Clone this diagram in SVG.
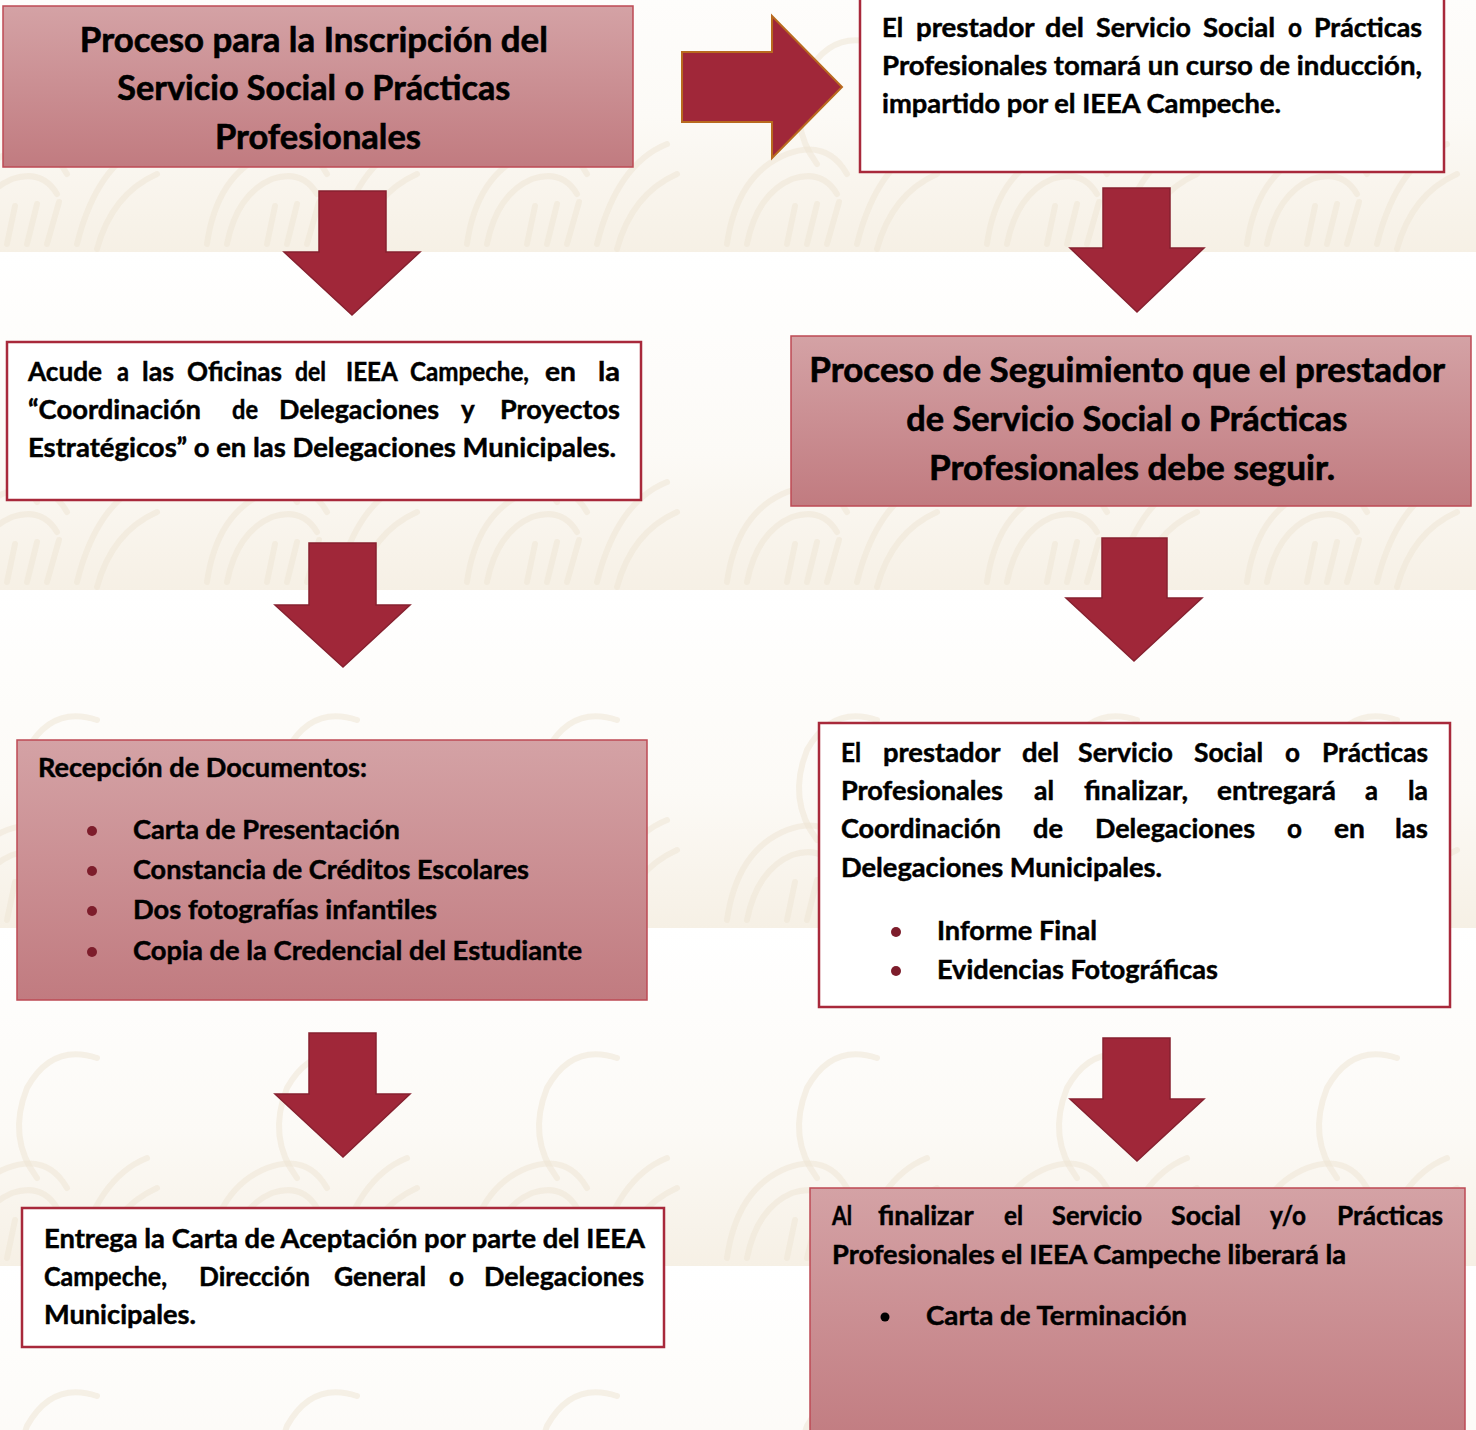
<svg xmlns="http://www.w3.org/2000/svg" width="1476" height="1430" viewBox="0 0 1476 1430">
<style>
.t{font-family:Lato,"Open Sans","Liberation Sans",sans-serif;font-weight:700;font-size:26px;fill:#000;stroke:#000;stroke-width:0.45}
.h{font-size:34px;stroke-width:0.6}
.pink{fill:url(#pg);stroke:#bd4a54;stroke-width:1.5}
.white{fill:#fff;stroke:#a8293b;stroke-width:2.5}
.arrow{fill:#a02739;stroke:#86202f;stroke-width:1.5}
.bul{fill:#7d1d2b}
.wm{fill:none;stroke:#efe5d4;stroke-width:6;stroke-linecap:round;opacity:.55}
</style>
<defs>
<linearGradient id="pg" x1="0" y1="0" x2="0" y2="1">
<stop offset="0" stop-color="#d4a2a5"/>
<stop offset="1" stop-color="#c17b80"/>
</linearGradient>
<linearGradient id="bgg" x1="0" y1="0" x2="0" y2="1">
<stop offset="0" stop-color="#ffffff"/>
<stop offset="0.6" stop-color="#fcfaf6"/>
<stop offset="1" stop-color="#f6f0e5"/>
</linearGradient>
<pattern id="bg" x="187" y="252" width="260" height="338" patternUnits="userSpaceOnUse">
<rect width="260" height="338" fill="url(#bgg)"/>
<path class="wm" d="M20,330 q10,-70 60,-90 q40,-15 60,20"/>
<path class="wm" d="M40,330 q10,-50 45,-65 q30,-10 45,15"/>
<path class="wm" d="M150,330 q20,-80 70,-100"/>
<path class="wm" d="M170,335 q15,-55 60,-75"/>
<path class="wm" d="M110,250 q-30,-40 -10,-90 q25,-45 70,-30" opacity=".35"/>
<path class="wm" d="M100,330 l10,-40 M120,330 l12,-42 M80,330 l8,-38"/>
</pattern>
</defs>
<rect width="1476" height="1430" fill="url(#bg)"/>

<g id="connectors">
<polygon id="arrow-right" points="682,52 772,52 772,16 842,87 772,158 772,122 682,122" fill="#a02739" stroke="#b86a1f" stroke-width="2"/>
<polygon class="arrow" points="319,191 386,191 386,252 420,252 352,315 284,252 319,252"/>
<polygon class="arrow" points="309,543 376,543 376,605 410,605 343,667 275,605 309,605"/>
<polygon class="arrow" points="309,1033 376,1033 376,1094 410,1094 343,1157 275,1094 309,1094"/>
<polygon class="arrow" points="1103,188 1170,188 1170,248 1204,248 1137,312 1070,248 1103,248"/>
<polygon class="arrow" points="1102,538 1167,538 1167,598 1202,598 1134,661 1066,598 1102,598"/>
<polygon class="arrow" points="1103,1038 1170,1038 1170,1099 1204,1099 1137,1161 1070,1099 1103,1099"/>
</g>

<g id="n1">
<rect class="pink" x="3" y="6" width="630" height="161"/>
<text class="t h" text-anchor="middle">
<tspan x="318" y="52" textLength="468" lengthAdjust="spacingAndGlyphs">Proceso para la Inscripción del</tspan>
<tspan x="318" y="100" textLength="393" lengthAdjust="spacingAndGlyphs">Servicio Social o Prácticas</tspan>
<tspan x="318" y="149" textLength="206" lengthAdjust="spacingAndGlyphs">Profesionales</tspan>
</text>
</g>

<g id="n2">
<rect class="white" x="860" y="-4" width="584" height="176"/>
<text class="t">
<tspan x="882" y="37" textLength="21" lengthAdjust="spacingAndGlyphs">El</tspan>
<tspan x="916" y="37" textLength="118" lengthAdjust="spacingAndGlyphs">prestador</tspan>
<tspan x="1045" y="37" textLength="39" lengthAdjust="spacingAndGlyphs">del</tspan>
<tspan x="1096" y="37" textLength="95" lengthAdjust="spacingAndGlyphs">Servicio</tspan>
<tspan x="1203" y="37" textLength="72" lengthAdjust="spacingAndGlyphs">Social</tspan>
<tspan x="1288" y="37" textLength="14" lengthAdjust="spacingAndGlyphs">o</tspan>
<tspan x="1314" y="37" textLength="108" lengthAdjust="spacingAndGlyphs">Prácticas</tspan>
<tspan x="882" y="75" textLength="540" lengthAdjust="spacingAndGlyphs">Profesionales tomará un curso de inducción,</tspan>
<tspan x="882" y="113" textLength="399" lengthAdjust="spacingAndGlyphs">impartido por el IEEA Campeche.</tspan>
</text>
</g>

<g id="n3">
<rect class="white" x="7" y="342" width="634" height="158"/>
<text class="t">
<tspan x="28" y="381" textLength="74" lengthAdjust="spacingAndGlyphs">Acude</tspan>
<tspan x="117" y="381" textLength="12" lengthAdjust="spacingAndGlyphs">a</tspan>
<tspan x="142" y="381" textLength="32" lengthAdjust="spacingAndGlyphs">las</tspan>
<tspan x="187" y="381" textLength="95" lengthAdjust="spacingAndGlyphs">Oficinas</tspan>
<tspan x="295" y="381" textLength="31" lengthAdjust="spacingAndGlyphs">del</tspan>
<tspan x="346" y="381" textLength="51" lengthAdjust="spacingAndGlyphs">IEEA</tspan>
<tspan x="410" y="381" textLength="119" lengthAdjust="spacingAndGlyphs">Campeche,</tspan>
<tspan x="545" y="381" textLength="31" lengthAdjust="spacingAndGlyphs">en</tspan>
<tspan x="598" y="381" textLength="22" lengthAdjust="spacingAndGlyphs">la</tspan>
<tspan x="28" y="419" textLength="173" lengthAdjust="spacingAndGlyphs">“Coordinación</tspan>
<tspan x="232" y="419" textLength="26" lengthAdjust="spacingAndGlyphs">de</tspan>
<tspan x="279" y="419" textLength="160" lengthAdjust="spacingAndGlyphs">Delegaciones</tspan>
<tspan x="461" y="419">y</tspan>
<tspan x="500" y="419" textLength="120" lengthAdjust="spacingAndGlyphs">Proyectos</tspan>
<tspan x="28" y="457" textLength="588" lengthAdjust="spacingAndGlyphs">Estratégicos” o en las Delegaciones Municipales.</tspan>
</text>
</g>

<g id="n4">
<rect class="pink" x="791" y="336" width="680" height="170"/>
<text class="t h" text-anchor="middle">
<tspan x="1131" y="382" textLength="635" lengthAdjust="spacingAndGlyphs">Proceso de Seguimiento que el prestador</tspan>
<tspan x="1131" y="431" textLength="441" lengthAdjust="spacingAndGlyphs">de Servicio Social o Prácticas</tspan>
<tspan x="1132" y="480" textLength="406" lengthAdjust="spacingAndGlyphs">Profesionales debe seguir.</tspan>
</text>
</g>

<g id="n5">
<rect class="pink" x="17" y="740" width="630" height="260"/>
<text class="t">
<tspan x="38" y="777" textLength="329" lengthAdjust="spacingAndGlyphs">Recepción de Documentos:</tspan>
<tspan x="133" y="839" textLength="267" lengthAdjust="spacingAndGlyphs">Carta de Presentación</tspan>
<tspan x="133" y="879" textLength="396" lengthAdjust="spacingAndGlyphs">Constancia de Créditos Escolares</tspan>
<tspan x="133" y="919" textLength="304" lengthAdjust="spacingAndGlyphs">Dos fotografías infantiles</tspan>
<tspan x="133" y="960" textLength="449" lengthAdjust="spacingAndGlyphs">Copia de la Credencial del Estudiante</tspan>
</text>
<circle class="bul" cx="92" cy="831" r="5"/>
<circle class="bul" cx="92" cy="871" r="5"/>
<circle class="bul" cx="92" cy="911" r="5"/>
<circle class="bul" cx="92" cy="952" r="5"/>
</g>

<g id="n6">
<rect class="white" x="819" y="723" width="631" height="284"/>
<text class="t">
<tspan x="841" y="762" textLength="20" lengthAdjust="spacingAndGlyphs">El</tspan>
<tspan x="883" y="762" textLength="117" lengthAdjust="spacingAndGlyphs">prestador</tspan>
<tspan x="1022" y="762" textLength="37" lengthAdjust="spacingAndGlyphs">del</tspan>
<tspan x="1078" y="762" textLength="95" lengthAdjust="spacingAndGlyphs">Servicio</tspan>
<tspan x="1194" y="762" textLength="69" lengthAdjust="spacingAndGlyphs">Social</tspan>
<tspan x="1285" y="762" textLength="15" lengthAdjust="spacingAndGlyphs">o</tspan>
<tspan x="1322" y="762" textLength="106" lengthAdjust="spacingAndGlyphs">Prácticas</tspan>
<tspan x="841" y="800" textLength="162" lengthAdjust="spacingAndGlyphs">Profesionales</tspan>
<tspan x="1034" y="800" textLength="20" lengthAdjust="spacingAndGlyphs">al</tspan>
<tspan x="1084" y="800" textLength="104" lengthAdjust="spacingAndGlyphs">finalizar,</tspan>
<tspan x="1217" y="800" textLength="119" lengthAdjust="spacingAndGlyphs">entregará</tspan>
<tspan x="1365" y="800" textLength="13" lengthAdjust="spacingAndGlyphs">a</tspan>
<tspan x="1408" y="800" textLength="20" lengthAdjust="spacingAndGlyphs">la</tspan>
<tspan x="841" y="838" textLength="160" lengthAdjust="spacingAndGlyphs">Coordinación</tspan>
<tspan x="1033" y="838" textLength="30" lengthAdjust="spacingAndGlyphs">de</tspan>
<tspan x="1095" y="838" textLength="160" lengthAdjust="spacingAndGlyphs">Delegaciones</tspan>
<tspan x="1287" y="838" textLength="15" lengthAdjust="spacingAndGlyphs">o</tspan>
<tspan x="1334" y="838" textLength="31" lengthAdjust="spacingAndGlyphs">en</tspan>
<tspan x="1395" y="838" textLength="33" lengthAdjust="spacingAndGlyphs">las</tspan>
<tspan x="841" y="877" textLength="321" lengthAdjust="spacingAndGlyphs">Delegaciones Municipales.</tspan>
<tspan x="937" y="940" textLength="160" lengthAdjust="spacingAndGlyphs">Informe Final</tspan>
<tspan x="937" y="979" textLength="281" lengthAdjust="spacingAndGlyphs">Evidencias Fotográficas</tspan>
</text>
<circle class="bul" cx="896" cy="932" r="5"/>
<circle class="bul" cx="896" cy="971" r="5"/>
</g>

<g id="n7">
<rect class="white" x="22" y="1208" width="642" height="139"/>
<text class="t">
<tspan x="44" y="1248" textLength="600" lengthAdjust="spacingAndGlyphs">Entrega la Carta de Aceptación por parte del IEEA</tspan>
<tspan x="44" y="1286" textLength="123" lengthAdjust="spacingAndGlyphs">Campeche,</tspan>
<tspan x="199" y="1286" textLength="111" lengthAdjust="spacingAndGlyphs">Dirección</tspan>
<tspan x="334" y="1286" textLength="92" lengthAdjust="spacingAndGlyphs">General</tspan>
<tspan x="449" y="1286" textLength="15" lengthAdjust="spacingAndGlyphs">o</tspan>
<tspan x="484" y="1286" textLength="160" lengthAdjust="spacingAndGlyphs">Delegaciones</tspan>
<tspan x="44" y="1324" textLength="152" lengthAdjust="spacingAndGlyphs">Municipales.</tspan>
</text>
</g>

<g id="n8">
<rect class="pink" x="810" y="1188" width="655" height="260"/>
<text class="t">
<tspan x="832" y="1225" textLength="20" lengthAdjust="spacingAndGlyphs">Al</tspan>
<tspan x="878" y="1225" textLength="95" lengthAdjust="spacingAndGlyphs">finalizar</tspan>
<tspan x="1004" y="1225" textLength="19" lengthAdjust="spacingAndGlyphs">el</tspan>
<tspan x="1052" y="1225" textLength="90" lengthAdjust="spacingAndGlyphs">Servicio</tspan>
<tspan x="1171" y="1225" textLength="70" lengthAdjust="spacingAndGlyphs">Social</tspan>
<tspan x="1270" y="1225" textLength="36" lengthAdjust="spacingAndGlyphs">y/o</tspan>
<tspan x="1337" y="1225" textLength="106" lengthAdjust="spacingAndGlyphs">Prácticas</tspan>
<tspan x="832" y="1264" textLength="514" lengthAdjust="spacingAndGlyphs">Profesionales el IEEA Campeche liberará la</tspan>
<tspan x="926" y="1325" textLength="261" lengthAdjust="spacingAndGlyphs">Carta de Terminación</tspan>
</text>
<circle cx="885" cy="1317" r="4.5" fill="#000"/>
</g>
</svg>
